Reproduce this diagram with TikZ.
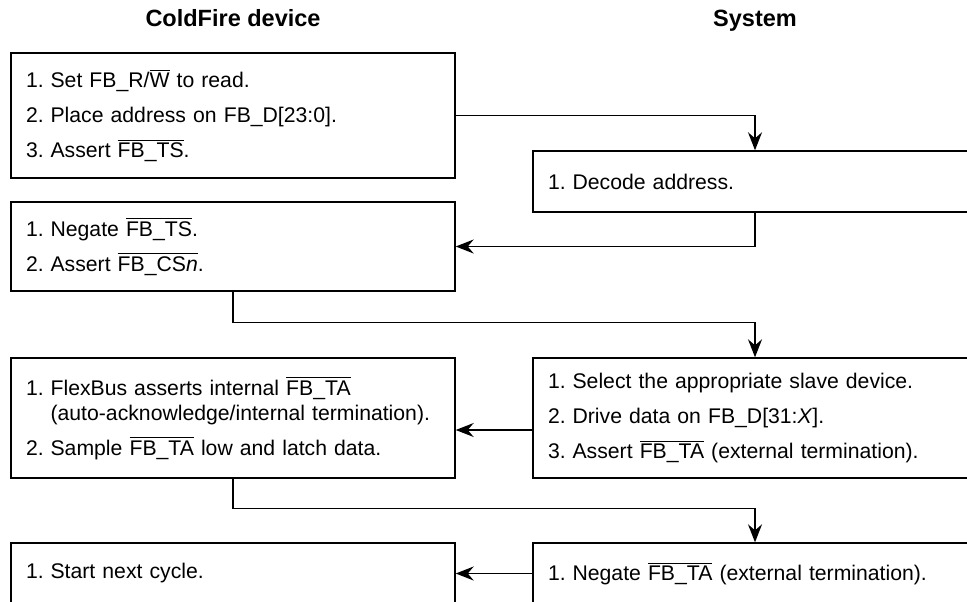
\documentclass[tikz,border=0pt]{standalone}
\usepackage{fontspec}
\setmainfont{Liberation Sans}
\usetikzlibrary{arrows.meta}

\newlength{\fbnum}
\setlength{\fbnum}{12.3pt}
\newcommand{\fbstep}[2]{\makebox[\fbnum][l]{#1}#2}
\newcommand{\fbbar}[1]{$\overline{\mbox{#1}}$}

\begin{document}
\begin{tikzpicture}[x=0.5pt, y=0.5pt,
  font=\fontsize{10.6}{12.5}\selectfont,
  stepbox/.style={draw, line width=0.7pt, text width=207pt, inner xsep=7.5pt, inner ysep=0pt, align=left},
  flow/.style={line width=0.7pt, -{Stealth[length=9pt, width=7pt, inset=3pt]}},
  head/.style={anchor=base, font=\fontsize{11.75}{14}\selectfont\bfseries}]
\def\xL{233}
\def\xR{755}

\clip (0,0) rectangle (967,601);

% column titles
\node[head] (hL) at (\xL,574) {ColdFire device};
\node[head] (hR) at (\xR,574) {System};

% ColdFire device side
\node[stepbox, minimum height=62.5pt] (l1) at (\xL,485.5) {%
  \fbstep{1.}{Set FB\_R/\fbbar{W} to read.}\\[5pt]
  \fbstep{2.}{Place address on FB\_D[23:0].}\\[5pt]
  \fbstep{3.}{Assert \fbbar{FB\_TS}.}};
\node[stepbox, minimum height=44.5pt] (l2) at (\xL,354.5) {%
  \fbstep{1.}{Negate \fbbar{FB\_TS}.}\\[5pt]
  \fbstep{2.}{Assert \fbbar{FB\_CS\textit{n}}.}};
\node[stepbox, minimum height=60pt] (l3) at (\xL,183) {%
  \fbstep{1.}{FlexBus asserts internal \fbbar{FB\_TA}}\\
  \hspace*{\fbnum}(auto-acknowledge/internal termination).\\[5pt]
  \fbstep{2.}{Sample \fbbar{FB\_TA} low and latch data.}};
\node[stepbox, minimum height=30.5pt] (l4) at (\xL,27.5) {%
  \fbstep{1.}{Start next cycle.}};

% System side
\node[stepbox, minimum height=30.5pt] (r1) at (\xR,419.5) {%
  \fbstep{1.}{Decode address.}};
\node[stepbox, minimum height=60pt] (r2) at (\xR,183) {%
  \fbstep{1.}{Select the appropriate slave device.}\\[5pt]
  \fbstep{2.}{Drive data on FB\_D[31:\textit{X}].}\\[5pt]
  \fbstep{3.}{Assert \fbbar{FB\_TA} (external termination).}};
\node[stepbox, minimum height=30.5pt] (r3) at (\xR,27.5) {%
  \fbstep{1.}{Negate \fbbar{FB\_TA} (external termination).}};

% handshake
\draw[flow] (l1.east) -| (r1.north);
\draw[flow] (r1.south) |- (l2.east);
\draw[flow] (l2.south) -- ++(0,-31) -| (r2.north);
\draw[flow] ([yshift=-6pt]r2.west) -- ([yshift=-6pt]l3.east);
\draw[flow] (l3.south) -- ++(0,-30) -| (r3.north);
\draw[flow] (r3.west) -- (l4.east);
\end{tikzpicture}
\end{document}
